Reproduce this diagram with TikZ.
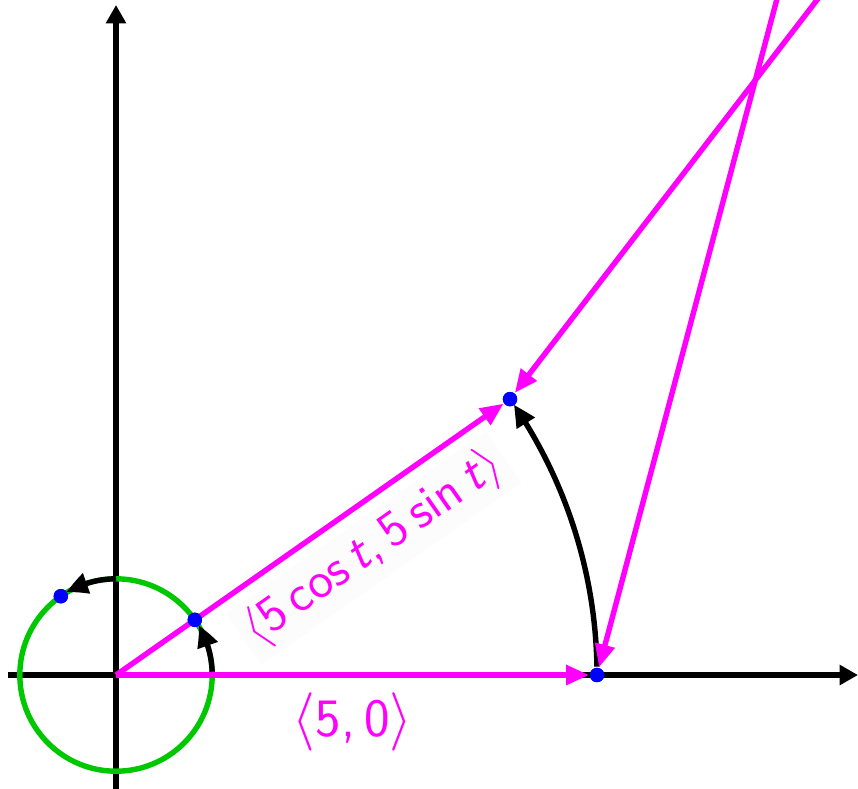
\documentclass[tikz,border=0pt]{standalone}
\usepackage{tikz}
\usetikzlibrary{arrows.meta,calc,bending}
\definecolor{VecMagenta}{RGB}{255,0,255}
\definecolor{CircGreen}{RGB}{0,200,0}
\definecolor{DotBlue}{RGB}{0,0,255}

\begin{document}
\begin{tikzpicture}[
  axis/.style={black,line width=1.6pt,-{Triangle[length=1.9mm,width=2mm]}},
  vec/.style={VecMagenta,line width=1.6pt,-{Triangle[length=2.4mm,width=2mm]}},
  turn/.style={black,line width=1.6pt,-{Triangle[length=2.3mm,width=2.1mm,bend]}},
  dot/.style={circle,fill=DotBlue,inner sep=0pt,minimum size=1.5mm},
  lbl/.style={text=VecMagenta,font=\sffamily},
]
\def\tang{35}
\useasboundingbox (-1.206,-1.175) rectangle (7.713,7.017);
\clip (-1.206,-1.175) rectangle (7.713,7.017);

% axes
\coordinate (O) at (0,0);
\coordinate (xl) at (-1.12,0);
\coordinate (xr) at (7.713,0);
\coordinate (yb) at (0,-1.2);
\coordinate (yt) at (0,6.965);
\draw[axis] (xl) -- (xr);
\draw[axis] (yb) -- (yt);

% unit circle
\draw[CircGreen,line width=1.6pt] (O) circle[radius=1];

% points
\node[dot] (A) at (5,0) {};
\node[dot] (P) at (\tang:5) {};
\node[dot] (Q) at (\tang:1) {};
\node[dot] (R) at (\tang+90:1) {};
\coordinate (F1) at (7.43,9.13);
\coordinate (F2) at (8.85,9.05);

% turning arcs
\draw[turn] (2:1) arc[start angle=2,end angle=\tang-4,radius=1];
\draw[turn] (90:1) arc[start angle=90,end angle=\tang+86,radius=1];
\draw[turn] (1:5) arc[start angle=1,end angle=\tang-0.8,radius=5];

% vectors
\draw[vec] (O) -- (A)
  node[lbl,midway,below=1pt,font=\sffamily\fontsize{16}{18}\selectfont]{$\langle$5,\,0$\rangle$};
\draw[vec] (O) -- (P)
  node[lbl,pos=0.6,below=3pt,sloped,fill=black!1,inner sep=2pt,
       font=\sffamily\fontsize{15}{17}\selectfont]{$\langle$5\,cos\,\textit{t},\,5\,sin\,\textit{t}$\rangle$};
\draw[vec] (F1) -- (A);
\draw[vec] (F2) -- (P);

% dots on top
\node[dot] at (A) {};
\node[dot] at (P) {};
\node[dot] at (Q) {};
\node[dot] at (R) {};
\end{tikzpicture}
\end{document}
